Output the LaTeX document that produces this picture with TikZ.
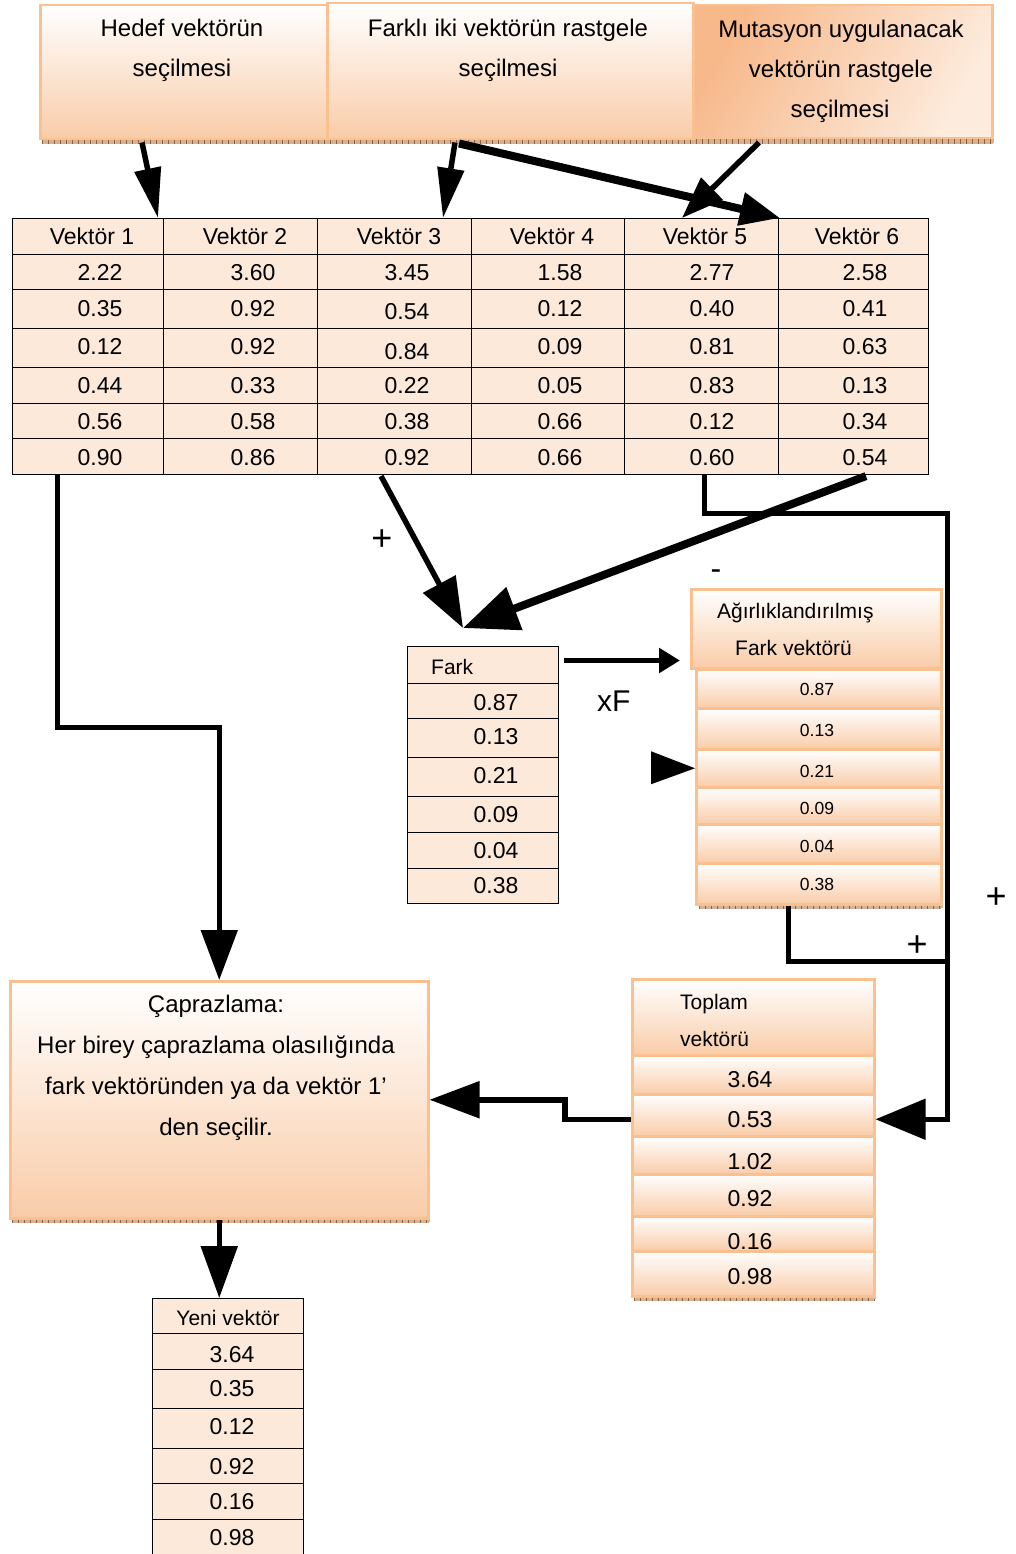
\documentclass[tikz,border=0pt]{standalone}
\usepackage{fontspec}
\setmainfont{Liberation Sans}
\usetikzlibrary{arrows.meta,calc}
\definecolor{pborder}{RGB}{250,192,144}
\definecolor{pgrad}{RGB}{249,204,168}
\definecolor{pcell}{RGB}{253,233,217}
\definecolor{pshadow}{RGB}{212,178,150}
\definecolor{ptick}{RGB}{150,95,55}
\definecolor{pdark}{RGB}{247,184,138}
\definecolor{plight}{RGB}{253,236,222}
\newcommand\shstrip[3]{%
  \fill[pshadow] (#1,#3) rectangle (#2,#3+6);
  \draw[ptick, line width=6pt, dash pattern=on 0.8pt off 5.2pt] (#1,#3+3) -- (#2,#3+3);}
\newcommand\shside[3]{\fill[pshadow] (#1,#2) rectangle (#1+3,#3);}
\begin{document}
\begin{tikzpicture}[x=1pt,y=-1pt,
  gbox/.style={draw=pborder, line width=2.5pt, top color=white, bottom color=pgrad, inner sep=0pt, anchor=north west},
  cellbox/.style={draw=black, line width=1.1pt, fill=pcell, inner sep=0pt, anchor=north west},
  lbl/.style={inner sep=0pt, anchor=base},
  fbig/.style={font=\fontsize{24}{28}\selectfont},
  fnum/.style={font=\fontsize{23}{27}\selectfont},
  fmid/.style={font=\fontsize{21}{25}\selectfont},
  fsml/.style={font=\fontsize{17.5}{21}\selectfont},
  fsign/.style={font=\fontsize{36}{40}\selectfont},
  conn/.style={draw=black, line width=5.5pt},
  tophead/.style={-{Triangle[length=50pt,width=26pt]}},
]
\useasboundingbox (0,0) rectangle (1016,1554);

% shadows
\shstrip{42}{993}{138}
\shside{991}{8}{143}
\shstrip{699}{941}{903}
\shside{940}{592}{908}
\shstrip{634}{875}{1295}
\shside{873}{982}{1299}
\shstrip{12}{429}{1217}
\shside{427}{984}{1222}

% top boxes
\node[gbox, minimum width=287, minimum height=134] (hb) at (39,4) {};
\node[gbox, minimum width=366, minimum height=136] (fb) at (326,2) {};
\node[draw=pborder, line width=2.5pt, inner sep=0pt, anchor=north west,
      minimum width=299, minimum height=133,
      left color=pdark, right color=plight, shading angle=60] (mb) at (692,4) {};
\node[lbl,fbig] (hbt1) at (182,37) {Hedef vektörün};
\node[lbl,fbig] (hbt2) at (182,77) {seçilmesi};
\node[lbl,fbig] (fbt1) at (508,37) {Farklı iki vektörün rastgele};
\node[lbl,fbig] (fbt2) at (508,77) {seçilmesi};
\node[lbl,fbig] (mbt1) at (841,38) {Mutasyon uygulanacak};
\node[lbl,fbig] (mbt2) at (841,78) {vektörün rastgele};
\node[lbl,fbig] (mbt3) at (840,118) {seçilmesi};

% main table
\foreach \c/\cx/\w in {1/12/151,2/163/154,3/317/154,4/471/153,5/624/154,6/778/150}{
  \foreach \r/\ry/\h in {0/218/36,1/254/35,2/289/39,3/328/39,4/367/36,5/403/35,6/438/36}{
    \node[cellbox, minimum width=\w, minimum height=\h] (t\c-\r) at (\cx,\ry) {};
  }
}
\foreach \c/\cx in {1/92,2/245,3/399,4/552,5/705,6/857}{
  \node[lbl,fnum] (th\c) at (\cx,245) {Vektör \c};
}
\foreach \r/\yb/\yc/\qa/\qb/\qc/\qd/\qe/\qf in {
 1/280/280/2.22/3.60/3.45/1.58/2.77/2.58,
 2/316/319/0.35/0.92/0.54/0.12/0.40/0.41,
 3/354/359/0.12/0.92/0.84/0.09/0.81/0.63,
 4/393/393/0.44/0.33/0.22/0.05/0.83/0.13,
 5/429/429/0.56/0.58/0.38/0.66/0.12/0.34,
 6/465/465/0.90/0.86/0.92/0.66/0.60/0.54}{
  \node[lbl,fnum] (n\r-1) at (100,\yb) {\qa};
  \node[lbl,fnum] (n\r-2) at (253,\yb) {\qb};
  \node[lbl,fnum] (n\r-3) at (407,\yc) {\qc};
  \node[lbl,fnum] (n\r-4) at (560,\yb) {\qd};
  \node[lbl,fnum] (n\r-5) at (712,\yb) {\qe};
  \node[lbl,fnum] (n\r-6) at (865,\yb) {\qf};
}

% Fark table
\foreach \i/\ry/\h in {0/646/37,1/683/35,2/718/39,3/757/39,4/796/36,5/832/36,6/868/35}{
  \node[cellbox, minimum width=151, minimum height=\h] (fk\i) at (407,\ry) {};
}
\node[lbl,fmid,anchor=base west] (fkt) at (431,674) {Fark};
\foreach \i/\yb/\v in {1/710/0.87,2/744/0.13,3/783/0.21,4/822/0.09,5/858/0.04,6/893/0.38}{
  \node[lbl,fnum] (fkv\i) at (496,\yb) {\v};
}

% weighted difference vector
\node[gbox, minimum width=250, minimum height=79] (ag) at (690,588) {};
\node[lbl,fmid,anchor=base west] (agt1) at (717,618) {Ağırlıklandırılmış};
\node[lbl,fmid,anchor=base west] (agt2) at (735,655) {Fark vektörü};
\foreach \i/\ry/\h in {1/668/39,2/707/41,3/748/38,4/786/37,5/823/39,6/862/41}{
  \node[gbox, minimum width=245, minimum height=\h] (ag\i) at (695,\ry) {};
}
\foreach \i/\yb/\v in {1/695/0.87,2/736/0.13,3/777/0.21,4/814/0.09,5/852/0.04,6/890/0.38}{
  \node[lbl,fsml] (agv\i) at (817,\yb) {\v};
}

% sum vector
\node[gbox, minimum width=242, minimum height=76] (tp) at (631,978) {};
\node[lbl,fmid,anchor=base west] (tpt1) at (680,1009) {Toplam};
\node[lbl,fmid,anchor=base west] (tpt2) at (680,1046) {vektörü};
\foreach \i/\ry/\h in {1/1054/39,2/1093/42,3/1135/38,4/1173/42,5/1215/35,6/1250/45}{
  \node[gbox, minimum width=242, minimum height=\h] (tp\i) at (631,\ry) {};
}
\foreach \i/\yb/\v in {1/1087/3.64,2/1127/0.53,3/1169/1.02,4/1206/0.92,5/1249/0.16,6/1284/0.98}{
  \node[lbl,fnum] (tpv\i) at (750,\yb) {\v};
}

% crossover box
\node[gbox, minimum width=418, minimum height=237] (cap) at (9,980) {};
\node[lbl,fbig] (capt1) at (216,1012) {Çaprazlama:};
\node[lbl,fbig] (capt2) at (216,1053) {Her birey çaprazlama olasılığında};
\node[lbl,fbig] (capt3) at (216,1094) {fark vektöründen ya da vektör 1’};
\node[lbl,fbig] (capt4) at (216,1135) {den seçilir.};

% new vector
\foreach \i/\ry/\h in {0/1298/35,1/1333/36,2/1369/39,3/1408/40,4/1448/35,5/1483/36,6/1519/40}{
  \node[cellbox, minimum width=151, minimum height=\h] (yn\i) at (152,\ry) {};
}
\node[lbl,fmid] (ynt) at (228,1325) {Yeni vektör};
\foreach \i/\yb/\v in {1/1362/3.64,2/1396/0.35,3/1434/0.12,4/1474/0.92,5/1509/0.16,6/1545/0.98}{
  \node[lbl,fnum] (ynv\i) at (232,\yb) {\v};
}

% connectors: selection arrows
\draw[conn, tophead] ($(hb.south west)+(103,2)$) -- ($(t1-0.north west)+(146,0)$);
\draw[conn, tophead] ($(fb.south west)+(129,2)$) -- ($(t3-0.north west)+(126,0)$);
\draw[conn, line width=8pt, -{Triangle[length=40pt,width=32pt]}] ($(fb.south west)+(133,3)$) -- ($(t6-0.north west)+(2,0)$);
\draw[conn, -{Triangle[length=42pt,width=30pt]}] ($(mb.south west)+(67,3)$) -- ($(t5-0.north west)+(58,0)$);

% difference
\coordinate (fkin) at ($(fk0.north west)+(56,-18)$);
\draw[conn, -{Triangle[length=50pt,width=36pt]}] ($(t3-6.south west)+(64,1)$) -- (fkin);
\draw[conn, line width=8pt, -{Triangle[length=55pt,width=44pt]}] ($(t6-6.south west)+(88,1)$) -- (fkin);

% vector 5 to sum
\coordinate (rj1) at ($(t5-6.south west)+(323,38)$);
\draw[conn, line width=5pt, -{Triangle[length=50pt,width=40pt]}] ($(t5-6.south west)+(80,0)$) |- (rj1) |- ($(tp2.east)+(0,4)$);
\coordinate (rj2) at ($(ag6.south west)+(252,56)$);
\draw[conn, line width=5pt] ($(ag6.south west)+(93,0)$) |- (rj2);

% vector 1 to crossover
\draw[conn, line width=5pt, -{Triangle[length=50pt,width=36pt]}] ($(t1-6.south west)+(45,0)$) -- ++(0,252) -| (cap.north);

% sum to crossover
\draw[conn, -{Triangle[length=50pt,width=36pt]}] ($(tp2.west)+(0,4)$) -- ++(-66,0) |- (cap.east);

% crossover to new vector
\draw[conn, -{Triangle[length=52pt,width=36pt]}] (cap.south) -- (cap.south |- yn0.north);

% difference to weighted
\coordinate (agin) at ($(ag.south west)+(-10,-9)$);
\draw[conn, -{Triangle[length=21pt,width=24pt]}] ($(fk0.north east |- agin)+(5,0)$) -- (agin);

% lone arrowhead
\fill[black] (ag3.west) -- ++(-44,-17) -- ++(0,33) -- cycle;

% signs
\node[lbl,fsign] (pl1) at (382,550) {+};
\node[lbl,font=\fontsize{32}{36}\selectfont] (mn1) at (716,579) {-};
\node[lbl,fsign] (pl2) at (917,956) {+};
\node[lbl,fsign] (pl3) at (996,908) {+};
\node[lbl,anchor=base west,font=\fontsize{30}{34}\selectfont] (xf) at (597,711) {xF};
\end{tikzpicture}
\end{document}
